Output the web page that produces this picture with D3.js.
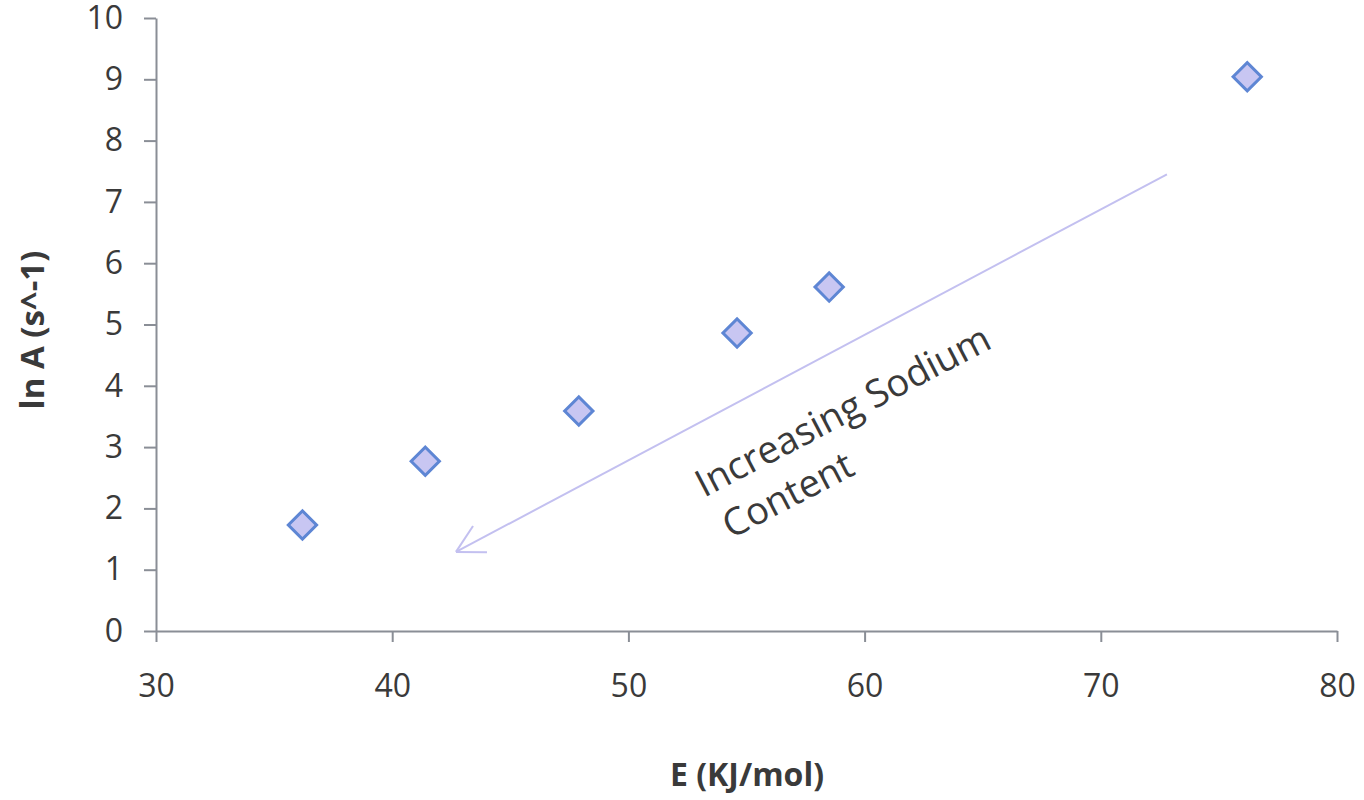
<!DOCTYPE html>
<html>
<head>
<meta charset="utf-8">
<script src="https://cdn.jsdelivr.net/npm/d3@7"></script>
<style>
  html, body { margin: 0; padding: 0; background: #fff; }
  svg { display: block; }
  text { font-family: "Open Sans", "DejaVu Sans", sans-serif; fill: #3a3a3a; }
</style>
</head>
<body>
<svg id="chart" width="1364" height="800"></svg>
<script>
// Data
const energy = [36.2, 41.4, 47.9, 54.6, 58.5, 76.2];        // E (KJ/mol)
const lnA    = [1.73, 2.77, 3.59, 4.86, 5.61, 9.04];         // ln A (s^-1)
const xTicks = [30, 40, 50, 60, 70, 80];
const yTicks = [0, 1, 2, 3, 4, 5, 6, 7, 8, 9, 10];
const xTitle = "E (KJ/mol)";
const yTitle = "ln A (s^-1)";
const annotationLines = ["Increasing Sodium", "Content"];
const arrowFrom = [72.8, 7.45];
const arrowTo = [42.7, 1.29];
const annotationAt = [53.2, 2.17];

const svg = d3.select("#chart");
const x = d3.scaleLinear().domain([30, 80]).range([156, 1337]);
const y = d3.scaleLinear().domain([0, 10]).range([631, 18]);
const axisColor = "#8a8e96";

// X axis
const gx = svg.append("g").attr("transform", `translate(0,${y(0)})`)
  .call(d3.axisBottom(x).tickValues(xTicks).tickSize(11).tickPadding(32).tickSizeOuter(0));
// Y axis
const gy = svg.append("g").attr("transform", `translate(${x(30)},0)`)
  .call(d3.axisLeft(y).tickValues(yTicks).tickSize(12).tickPadding(21).tickSizeOuter(0));

[gx, gy].forEach(g => {
  g.select(".domain").attr("stroke", axisColor).attr("stroke-width", 2);
  g.selectAll(".tick line").attr("stroke", axisColor).attr("stroke-width", 2);
  g.selectAll(".tick text").attr("font-size", 32).attr("fill", "#3a3a3a")
    .attr("font-family", '"Open Sans", sans-serif');
});
gx.selectAll(".tick text").attr("dy", "0.71em");

// Axis titles
svg.append("text").attr("x", 747).attr("y", 786).attr("text-anchor", "middle")
  .attr("font-size", 32).attr("font-weight", "bold").text(xTitle);
svg.append("text").attr("transform", "translate(44,330) rotate(-90)")
  .attr("text-anchor", "middle").attr("font-size", 33).attr("font-weight", "bold").text(yTitle);

// Arrow annotation
const ax1 = x(arrowFrom[0]), ay1 = y(arrowFrom[1]);
const ax2 = x(arrowTo[0]), ay2 = y(arrowTo[1]);
const arrowColor = "#c3c0f0";
svg.append("line").attr("x1", ax1).attr("y1", ay1).attr("x2", ax2).attr("y2", ay2)
  .attr("stroke", arrowColor).attr("stroke-width", 2);
const ang = Math.atan2(ay1 - ay2, ax1 - ax2);
const headLen = 31, spread = 0.5;
[ang - spread, ang + spread].forEach(a => {
  svg.append("line").attr("x1", ax2).attr("y1", ay2)
    .attr("x2", ax2 + headLen * Math.cos(a)).attr("y2", ay2 + headLen * Math.sin(a))
    .attr("stroke", arrowColor).attr("stroke-width", 2);
});

const ann = svg.append("text")
  .attr("transform", `translate(${x(annotationAt[0])},${y(annotationAt[1])}) rotate(-27.5)`)
  .attr("font-size", 38).attr("fill", "#333");
annotationLines.forEach((t, i) => {
  ann.append("tspan").attr("x", i === 0 ? 0 : 5).attr("dy", i === 0 ? 0 : 49).text(t);
});

// Points
svg.append("g").selectAll("path").data(energy.map((e, i) => [e, lnA[i]]))
  .join("path")
  .attr("transform", d => `translate(${x(d[0])},${y(d[1])}) rotate(45)`)
  .attr("d", d3.symbol().type(d3.symbolSquare).size(400))
  .attr("fill", "#c8c6f2").attr("stroke", "#5e86d4").attr("stroke-width", 3);
</script>
</body>
</html>
